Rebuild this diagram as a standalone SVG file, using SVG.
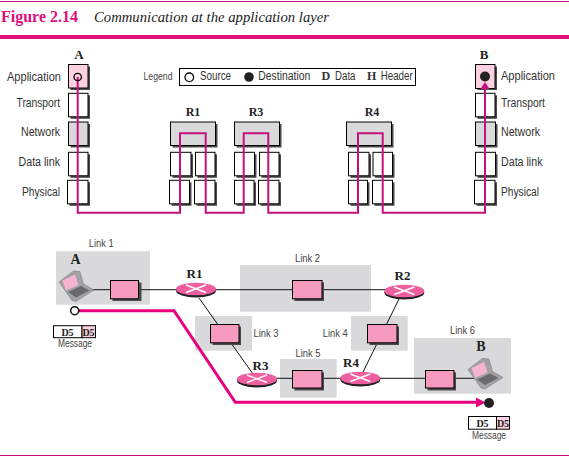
<svg xmlns="http://www.w3.org/2000/svg" width="569" height="458" viewBox="0 0 569 458">
<style>
text{font-family:"Liberation Sans",Arial,sans-serif;fill:#333}
.lab{font-size:12px}
.lnk{font-size:10px;fill:#444}
.ser{font-family:"Liberation Serif","Times New Roman",serif;font-weight:bold;fill:#222;font-size:12px;text-anchor:middle}
.lg{font-family:"Liberation Serif",serif;font-weight:bold;font-size:12px}
.box{fill:#fff;stroke:#000;stroke-width:1}
.gr{fill:#d9d9db}
.sh{fill:#4a4a4a}
.pk{fill:#f79ac0;stroke:#000;stroke-width:1}
.path{fill:none;stroke:#c6107f;stroke-width:2}
.wire{fill:none;stroke:#111;stroke-width:1}
.thick{fill:none;stroke:#e6007e;stroke-width:3}
.x{stroke:#fff;stroke-width:1.400}
.msg{font-size:10px;fill:#444}
</style>
<defs>
<g id="router">
<ellipse cx="0" cy="1.500" rx="20" ry="7" fill="#222"/>
<ellipse cx="0" cy="0" rx="20" ry="6.300" fill="#ee5f9f"/>
<path class="x" d="M-10-4L10 3.500M-10 3.500L10-4"/>
</g>
<g id="laptop">
<path d="M0 12L14.500 1L21 1.500L24.500 14L35 20L17 31.500L13 30.500Z" fill="#a2a2a4" stroke="#808082" stroke-width=".6"/>
<path d="M3.500 10.500L16 4.500L19.500 15L7 20.500Z" fill="#f7b4d2"/>
<path d="M9 22L22 16L30.500 20.500L17 27.500Z" fill="#6a6a6c"/>
</g>
</defs>

<g id="header">
<rect x="0" y="1" width="569" height="1" fill="#c6107f"/>
<rect x="0" y="35" width="569" height="4" fill="#e0107f"/>
<text x="1" y="22" style="font-family:'Liberation Serif',serif;font-weight:bold;font-size:16px;fill:#dd0f7b" textLength="77" lengthAdjust="spacingAndGlyphs">Figure 2.14</text>
<text x="94" y="22" style="font-family:'Liberation Serif',serif;font-style:italic;font-size:14.500px;fill:#222" textLength="235" lengthAdjust="spacingAndGlyphs">Communication at the application layer</text>
<rect x="0" y="455" width="569" height="1" fill="#c6107f"/>
</g>

<g id="labels-left">
<text class="lab" x="7" y="81" textLength="54" lengthAdjust="spacingAndGlyphs">Application</text>
<text class="lab" x="16.500" y="107" textLength="43.500" lengthAdjust="spacingAndGlyphs">Transport</text>
<text class="lab" x="21" y="136" textLength="39" lengthAdjust="spacingAndGlyphs">Network</text>
<text class="lab" x="18.500" y="166" textLength="41.500" lengthAdjust="spacingAndGlyphs">Data link</text>
<text class="lab" x="22" y="196" textLength="38" lengthAdjust="spacingAndGlyphs">Physical</text>
<text class="ser" x="79" y="59" style="font-size:13px">A</text>
</g>
<g id="labels-right">
<text class="lab" x="501" y="80" textLength="54" lengthAdjust="spacingAndGlyphs">Application</text>
<text class="lab" x="501" y="107" textLength="44" lengthAdjust="spacingAndGlyphs">Transport</text>
<text class="lab" x="501" y="136" textLength="39" lengthAdjust="spacingAndGlyphs">Network</text>
<text class="lab" x="501" y="166" textLength="41.500" lengthAdjust="spacingAndGlyphs">Data link</text>
<text class="lab" x="501" y="196" textLength="38" lengthAdjust="spacingAndGlyphs">Physical</text>
<text class="ser" x="484" y="59" style="font-size:13px">B</text>
</g>

<g id="stack-A">
<rect class="sh" x="70.500" y="66.500" width="19.500" height="23.500"/><rect x="68.500" y="64.500" width="19.500" height="23.500" fill="#fbd0e0" stroke="#000"/>
<rect class="sh" x="70.500" y="95.300" width="19.500" height="23.500"/><rect class="box" x="68.500" y="93.300" width="19.500" height="23.500"/>
<rect class="sh" x="70.500" y="124" width="19.500" height="23.500"/><rect class="gr" stroke="#000" x="68.500" y="122" width="19.500" height="23.500"/>
<rect class="sh" x="70.500" y="154.300" width="19.500" height="23.500"/><rect class="box" x="68.500" y="152.300" width="19.500" height="23.500"/>
<rect class="sh" x="69.500" y="182.300" width="20.500" height="23.500"/><rect class="box" x="67.500" y="180.300" width="20.500" height="23.500"/>
</g>
<g id="stack-B">
<rect class="sh" x="477.500" y="66.500" width="19.500" height="23.500"/><rect x="475.500" y="64.500" width="19.500" height="24" fill="#fbd0e0" stroke="#000"/>
<rect class="sh" x="477.500" y="95.300" width="19.500" height="23.500"/><rect class="box" x="475.500" y="93.300" width="19.500" height="23.500"/>
<rect class="sh" x="477.500" y="124" width="20" height="23.500"/><rect class="gr" stroke="#000" x="475.500" y="122" width="20" height="23.500"/>
<rect class="sh" x="477.500" y="154.300" width="20" height="23.500"/><rect class="box" x="475.500" y="152.300" width="20" height="23.500"/>
<rect class="sh" x="476.500" y="182.300" width="20.500" height="23.500"/><rect class="box" x="474.500" y="180.300" width="20.500" height="23.500"/>
</g>
<g id="stack-R1">
<text class="ser" x="193" y="116">R1</text>
<rect class="sh" x="172.500" y="124" width="45" height="23.500"/><rect class="gr" stroke="#000" x="170.500" y="122" width="45" height="23.500"/>
<rect class="sh" x="172.500" y="154.300" width="20.500" height="23.500"/><rect class="box" x="170.500" y="152.300" width="20.500" height="23.500"/>
<rect class="sh" x="197.500" y="154.300" width="19.500" height="23.500"/><rect class="box" x="195.500" y="152.300" width="19.500" height="23.500"/>
<rect class="sh" x="171.500" y="182.300" width="20" height="23.500"/><rect class="box" x="169.500" y="180.300" width="20" height="23.500"/>
<rect class="sh" x="196.500" y="182.300" width="20.500" height="23.500"/><rect class="box" x="194.500" y="180.300" width="20.500" height="23.500"/>
</g>
<g id="stack-R3">
<text class="ser" x="256" y="116">R3</text>
<rect class="sh" x="236.500" y="124" width="45" height="23.500"/><rect class="gr" stroke="#000" x="234.500" y="122" width="45" height="23.500"/>
<rect class="sh" x="236.500" y="154.300" width="20" height="23.500"/><rect class="box" x="234.500" y="152.300" width="20" height="23.500"/>
<rect class="sh" x="261.500" y="154.300" width="19.500" height="23.500"/><rect class="box" x="259.500" y="152.300" width="19.500" height="23.500"/>
<rect class="sh" x="236.500" y="182.300" width="19.500" height="23.500"/><rect class="box" x="234.500" y="180.300" width="19.500" height="23.500"/>
<rect class="sh" x="260.500" y="182.300" width="20.500" height="23.500"/><rect class="box" x="258.500" y="180.300" width="20.500" height="23.500"/>
</g>
<g id="stack-R4">
<text class="ser" x="372" y="116">R4</text>
<rect class="sh" x="348.500" y="124" width="45" height="23.500"/><rect class="gr" stroke="#000" x="346.500" y="122" width="45" height="23.500"/>
<rect class="sh" x="350.500" y="154.300" width="20.500" height="23.500"/><rect class="box" x="348.500" y="152.300" width="20.500" height="23.500"/>
<rect class="sh" x="375" y="154.300" width="19.500" height="23.500"/><rect class="box" x="373" y="152.300" width="19.500" height="23.500"/>
<rect class="sh" x="350.500" y="182.300" width="19" height="23.500"/><rect class="box" x="348.500" y="180.300" width="19" height="23.500"/>
<rect class="sh" x="374.500" y="182.300" width="20" height="23.500"/><rect class="box" x="372.500" y="180.300" width="20" height="23.500"/>
</g>

<g id="legend">
<rect x="179.500" y="68.500" width="236" height="17" fill="#fff" stroke="#000"/>
<text x="143.500" y="80" textLength="29" lengthAdjust="spacingAndGlyphs" style="font-size:10px;fill:#444">Legend</text>
<circle cx="189.300" cy="77.300" r="4.300" fill="#fff" stroke="#000" stroke-width="1.300"/>
<text x="200" y="80" class="lab" textLength="31" lengthAdjust="spacingAndGlyphs">Source</text>
<circle cx="249" cy="77" r="4.800" fill="#222"/>
<text x="258.300" y="80" class="lab" textLength="52" lengthAdjust="spacingAndGlyphs">Destination</text>
<text x="321.500" y="80" class="lg">D</text>
<text x="335" y="80" class="lab" textLength="20.500" lengthAdjust="spacingAndGlyphs">Data</text>
<text x="367" y="80" class="lg">H</text>
<text x="380.700" y="80" class="lab" textLength="32" lengthAdjust="spacingAndGlyphs">Header</text>
</g>

<g id="connectors-top">
<path class="path" d="M77.700 77V212.700H180V133.300H205.700V212.700H243.700V133.300H268.300V212.700H358V133.300H382.700V212.700H485V88"/>
<path d="M485 82L480.500 89H489.500Z" fill="#c6107f"/>
</g>
<g id="endpoints-top">
<circle cx="77.700" cy="77" r="3.700" fill="none" stroke="#000" stroke-width="1.300"/>
<circle cx="485" cy="76.500" r="5" fill="#222"/>
</g>

<g id="link-areas">
<rect class="gr" x="56" y="251.300" width="94" height="53.400"/>
<rect class="gr" x="240" y="265" width="131" height="46.700"/>
<rect class="gr" x="195" y="316" width="57" height="34.700"/>
<rect class="gr" x="351" y="316" width="56.700" height="34.700"/>
<rect class="gr" x="280" y="359" width="56.700" height="38.700"/>
<rect class="gr" x="414" y="338" width="97" height="55.700"/>
</g>
<g id="connectors">
<path class="wire" d="M92 289.700H395"/>
<path class="wire" d="M199 298L253 374"/>
<path class="wire" d="M399 299L363 372"/>
<path class="wire" d="M270 378.300H480"/>
</g>
<g id="link-1"><text class="lnk" x="88.700" y="247" textLength="25" lengthAdjust="spacingAndGlyphs">Link 1</text><rect class="sh" x="112.500" y="282.500" width="29" height="18.500"/><rect class="pk" x="110.500" y="280.500" width="28" height="18.300"/></g>
<g id="link-2"><text class="lnk" x="295" y="262" textLength="25" lengthAdjust="spacingAndGlyphs">Link 2</text><rect class="sh" x="294.500" y="282.500" width="29.500" height="18.500"/><rect class="pk" x="292.500" y="280.500" width="29.500" height="18.300"/></g>
<g id="link-3"><text class="lnk" x="253.500" y="337" textLength="25" lengthAdjust="spacingAndGlyphs">Link 3</text><rect class="sh" x="212.500" y="326.500" width="28.500" height="18.500"/><rect class="pk" x="210.500" y="324.500" width="28.500" height="18.300"/></g>
<g id="link-4"><text class="lnk" x="322.700" y="337" textLength="25" lengthAdjust="spacingAndGlyphs">Link 4</text><rect class="sh" x="369.500" y="326.500" width="29.500" height="18.500"/><rect class="pk" x="367.500" y="324.500" width="29.500" height="18.300"/></g>
<g id="link-5"><text class="lnk" x="295.500" y="357" textLength="25" lengthAdjust="spacingAndGlyphs">Link 5</text><rect class="sh" x="294.500" y="372.500" width="29.500" height="18"/><rect class="pk" x="292.500" y="370.500" width="29.500" height="17.500"/></g>
<g id="link-6"><text class="lnk" x="450" y="334" textLength="25" lengthAdjust="spacingAndGlyphs">Link 6</text><rect class="sh" x="427.500" y="372.500" width="28.500" height="18"/><rect class="pk" x="425.500" y="370.500" width="28.500" height="17.500"/></g>

<g id="host-A"><use href="#laptop" x="59" y="270"/><text class="ser" x="75.500" y="264" style="font-size:14px">A</text></g>
<g id="host-B"><use href="#laptop" x="468" y="357.500"/><text class="ser" x="481" y="351" style="font-size:14px">B</text></g>
<g id="R1"><use href="#router" x="196" y="289"/><text class="ser" x="194.500" y="278" style="font-size:13px">R1</text></g>
<g id="R2"><use href="#router" x="404.300" y="291"/><text class="ser" x="402.500" y="280" style="font-size:13px">R2</text></g>
<g id="R3"><use href="#router" x="257" y="379"/><text class="ser" x="260.500" y="370" style="font-size:13px">R3</text></g>
<g id="R4"><use href="#router" x="360.300" y="378"/><text class="ser" x="351" y="367" style="font-size:13px">R4</text></g>

<g id="route">
<path class="thick" d="M78 310.700H174L235.300 402.300H478"/>
<path d="M485.500 402.500L476 397.500V407.500Z" fill="#e6007e"/>
<circle cx="74.700" cy="310.700" r="4" fill="#fff" stroke="#111" stroke-width="1.500"/>
<circle cx="489" cy="403" r="5" fill="#222"/>
</g>

<g id="message-A">
<rect x="53.500" y="325.700" width="28.500" height="12" fill="#fff" stroke="#000"/>
<rect x="82" y="325.700" width="13.500" height="12" fill="#fbd0e0" stroke="#000"/>
<text class="ser" x="67.500" y="335.500" style="font-size:10px">D5</text><text class="ser" x="88.500" y="335.500" style="font-size:10px">D5</text>
<text class="msg" x="58" y="347" textLength="34" lengthAdjust="spacingAndGlyphs">Message</text>
</g>
<g id="message-B">
<rect x="468.500" y="416.500" width="28" height="12.700" fill="#fff" stroke="#000"/>
<rect x="496.500" y="416.500" width="13" height="12.700" fill="#fbd0e0" stroke="#000"/>
<text class="ser" x="482.500" y="426.500" style="font-size:10px">D5</text><text class="ser" x="503" y="426.500" style="font-size:10px">D5</text>
<text class="msg" x="472" y="439" textLength="34" lengthAdjust="spacingAndGlyphs">Message</text>
</g>
</svg>
